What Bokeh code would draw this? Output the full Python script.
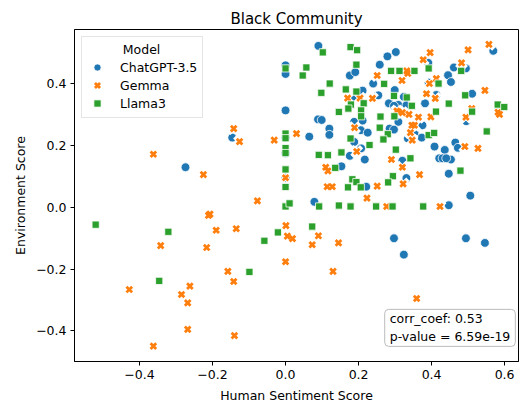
from bokeh.plotting import figure
from bokeh.models import (Range1d, FixedTicker, CustomJSTickFormatter, Legend,
                          LegendItem, Label)
from bokeh.embed import file_html
from bokeh.resources import INLINE

title_text = "Black Community"
x_label = "Human Sentiment Score"
y_label = "Environment Score"
legend_title = "Model"
series_names = ["ChatGPT-3.5", "Gemma", "Llama3"]
x_ticks = [-0.4, -0.2, 0.0, 0.2, 0.4, 0.6]
y_ticks = [-0.4, -0.2, 0.0, 0.2, 0.4]
stats_text = "corr_coef: 0.53\np-value = 6.59e-19"

gpt_x = [0.090, 0.569, 0.302, 0.279, 0.000, 0.000, 0.258, 0.461, 0.494, 0.176,
         0.191, 0.391, 0.445, 0.453, 0.240, 0.299, 0.211, 0.254, 0.187, 0.324,
         0.413, 0.511, 0.283, 0.309, 0.297, 0.331, 0.382, 0.000, 0.089, 0.099,
         0.211, 0.188, 0.309, 0.495, 0.120, 0.120, 0.206, 0.225, 0.285, 0.297,
         0.375, 0.353, 0.065, 0.000, 0.335, 0.373, 0.188, 0.465, 0.408, 0.472,
         0.207, 0.436, 0.000, 0.176, 0.217, 0.421, 0.430, 0.453, 0.320, 0.153,
         0.447, 0.000, 0.331, 0.221, 0.506, 0.079, 0.447, 0.297, 0.494, 0.546,
         0.324, -0.146, -0.274, 0.392, 0.440]
gpt_y = [0.523, 0.507, 0.503, 0.489, 0.460, 0.432, 0.462, 0.453, 0.450, 0.427,
         0.438, 0.468, 0.428, 0.406, 0.401, 0.380, 0.378, 0.363, 0.352, 0.358,
         0.364, 0.368, 0.337, 0.332, 0.329, 0.331, 0.337, 0.314, 0.285, 0.283,
         0.281, 0.277, 0.277, 0.279, 0.255, 0.235, 0.250, 0.242, 0.255, 0.252,
         0.266, 0.242, 0.229, 0.226, 0.223, 0.226, 0.212, 0.210, 0.197, 0.193,
         0.191, 0.186, 0.176, 0.167, 0.155, 0.159, 0.159, 0.155, 0.151, 0.133,
         0.109, 0.096, 0.095, 0.067, 0.038, 0.018, 0.007, -0.100, -0.100, -0.115,
         -0.153, 0.226, 0.130, 0.404, 0.159]

gemma_x = [0.557, 0.500, 0.396, 0.377, 0.482, 0.332, 0.335, 0.251, 0.319, 0.413,
           0.394, 0.546, 0.386, 0.170, 0.204, 0.238, 0.410, 0.510, 0.309, 0.320,
           0.338, 0.364, 0.398, 0.494, 0.582, 0.586, 0.189, 0.346, 0.353, 0.342,
           0.347, 0.030, -0.031, 0.491, 0.527, 0.195, 0.290, 0.110, 0.116, 0.320,
           0.367, 0.000, 0.114, 0.128, 0.251, 0.322, 0.223, 0.277, 0.423, -0.142,
           -0.126, -0.362, -0.225, -0.077, -0.207, -0.211, -0.190, -0.135, 0.001, 0.005,
           0.019, -0.342, -0.216, 0.000, -0.158, -0.142, -0.428, -0.262, -0.285, -0.268,
           -0.268, -0.140, -0.362, 0.090, 0.073, 0.145, 0.130, 0.359, 0.305]
gemma_y = [0.528, 0.510, 0.501, 0.478, 0.468, 0.442, 0.434, 0.427, 0.411, 0.417,
           0.401, 0.379, 0.368, 0.354, 0.354, 0.353, 0.353, 0.320, 0.309, 0.307,
           0.301, 0.292, 0.293, 0.292, 0.308, 0.301, 0.258, 0.266, 0.266, 0.242,
           0.218, 0.239, 0.218, 0.197, 0.191, 0.181, 0.155, 0.130, 0.118, 0.130,
           0.106, 0.096, 0.067, 0.067, 0.069, 0.076, 0.030, 0.003, 0.003, 0.255,
           0.213, 0.172, 0.106, 0.021, -0.022, -0.026, -0.074, -0.069, -0.059, -0.093,
           -0.101, -0.124, -0.130, -0.176, -0.207, -0.240, -0.266, -0.255, -0.282, -0.309,
           -0.395, -0.415, -0.449, -0.092, -0.121, -0.115, -0.207, -0.295, 0.312]

llama_x = [0.178, 0.196, 0.102, 0.000, 0.057, 0.047, 0.194, 0.289, 0.312, 0.353,
           0.392, 0.121, 0.270, 0.419, 0.098, 0.165, 0.194, 0.297, 0.332, 0.481,
           0.492, 0.581, 0.599, 0.179, 0.172, 0.214, 0.346, 0.447, 0.146, 0.207,
           0.207, 0.260, 0.298, 0.412, 0.511, 0.000, 0.000, 0.258, 0.280, 0.268,
           0.392, 0.407, 0.551, 0.178, 0.000, 0.000, 0.230, 0.153, 0.091, 0.116,
           0.302, 0.342, 0.136, 0.000, 0.479, 0.294, 0.183, 0.194, 0.281, 0.000,
           0.171, 0.206, 0.000, 0.011, 0.092, 0.146, 0.178, 0.248, 0.293, 0.377,
           -0.021, 0.073, -0.520, -0.321, -0.346, -0.099, -0.058]
llama_y = [0.519, 0.509, 0.502, 0.450, 0.453, 0.427, 0.462, 0.442, 0.442, 0.442,
           0.450, 0.401, 0.400, 0.401, 0.371, 0.382, 0.375, 0.361, 0.356, 0.442,
           0.363, 0.333, 0.325, 0.333, 0.320, 0.337, 0.329, 0.336, 0.309, 0.314,
           0.295, 0.294, 0.295, 0.310, 0.310, 0.239, 0.224, 0.258, 0.237, 0.220,
           0.234, 0.241, 0.246, 0.223, 0.192, 0.176, 0.202, 0.178, 0.170, 0.169,
           0.187, 0.159, 0.128, 0.123, 0.119, 0.101, 0.091, 0.082, 0.081, 0.066,
           0.065, 0.065, 0.003, 0.013, 0.003, 0.006, 0.003, 0.003, 0.003, 0.003,
           -0.081, -0.062, -0.056, -0.079, -0.238, -0.209, -0.108]

FONT = "DejaVu Sans"
FS = "12.5px"
BLUE, ORANGE, GREEN = "#1f77b4", "#ff7f0e", "#2ca02c"

p = figure(width=523, height=405, output_backend="svg", toolbar_location=None,
           x_range=Range1d(-0.578, 0.638), y_range=Range1d(-0.499, 0.576),
           min_border_left=74, min_border_right=5, min_border_top=29,
           min_border_bottom=40, title=title_text)
p.background_fill_color = "white"
p.border_fill_color = "white"
p.outline_line_color = "black"
p.outline_line_width = 1
p.outline_line_alpha = 1
p.xgrid.visible = False
p.ygrid.visible = False

p.title.align = "center"
p.title.text_font = FONT
p.title.text_font_size = "15px"
p.title.text_font_style = "normal"
p.title.text_color = "black"
p.title.standoff = 4

fmt_code = "return tick.toFixed(1).replace('-', '\\u2212');"
for ax, ticks, lab in ((p.xaxis[0], x_ticks, x_label), (p.yaxis[0], y_ticks, y_label)):
    ax.ticker = FixedTicker(ticks=ticks)
    ax.formatter = CustomJSTickFormatter(code=fmt_code)
    ax.axis_label = lab
    ax.axis_label_text_font = FONT
    ax.axis_label_text_font_size = FS
    ax.axis_label_text_font_style = "normal"
    ax.axis_label_text_color = "black"
    ax.major_label_text_font = FONT
    ax.major_label_text_font_size = FS
    ax.major_label_text_color = "black"
    ax.axis_line_color = "black"
    ax.major_tick_line_color = "black"
    ax.major_tick_out = 4
    ax.major_tick_in = 0
    ax.minor_tick_out = 0
    ax.minor_tick_in = 0
    ax.major_label_standoff = 4
p.xaxis[0].axis_label_standoff = 6
p.yaxis[0].axis_label_standoff = 5

r_gpt = p.scatter(gpt_x, gpt_y, marker="circle", size=8.8, fill_color=BLUE,
                  line_color="white", line_width=0.8)
r_gem_w = p.scatter(gemma_x, gemma_y, marker="x", size=9, line_color="white",
                    line_width=4.6, line_cap="square")
r_gem = p.scatter(gemma_x, gemma_y, marker="x", size=8, line_color=ORANGE,
                  line_width=2.8)
r_lla = p.scatter(llama_x, llama_y, marker="square", size=7.2, fill_color=GREEN,
                  line_color="white", line_width=0.8)

# non-breaking spaces push the legend title to the centre, as in the original
centered_title = "\u00a0" * 9 + legend_title

legend = Legend(items=[
    LegendItem(label=series_names[0], renderers=[r_gpt]),
    LegendItem(label=series_names[1], renderers=[r_gem_w, r_gem]),
    LegendItem(label=series_names[2], renderers=[r_lla]),
], location="top_left", margin=7, padding=5, spacing=0, glyph_height=18,
    glyph_width=20, label_standoff=13, title=centered_title, title_standoff=1)
legend.title_text_font = FONT
legend.title_text_font_size = FS
legend.title_text_font_style = "normal"
legend.title_text_color = "black"
legend.label_text_font = FONT
legend.label_text_font_size = FS
legend.label_text_color = "black"
legend.background_fill_color = "white"
legend.background_fill_alpha = 0.8
legend.border_line_color = "#cccccc"
legend.border_line_width = 1
p.add_layout(legend)

p.add_layout(Label(x=0.2716, y=-0.4500, text=stats_text, text_font=FONT,
                   text_font_size=FS, text_align="left",
                   text_baseline="bottom", text_color="black",
                   text_line_height=1.2,
                   background_fill_color="white", background_fill_alpha=0.8,
                   border_line_color="#bbbbbb", border_line_width=1,
                   padding=(5, 2), border_radius=4))

open("out.html", "w").write(file_html(p, INLINE))
